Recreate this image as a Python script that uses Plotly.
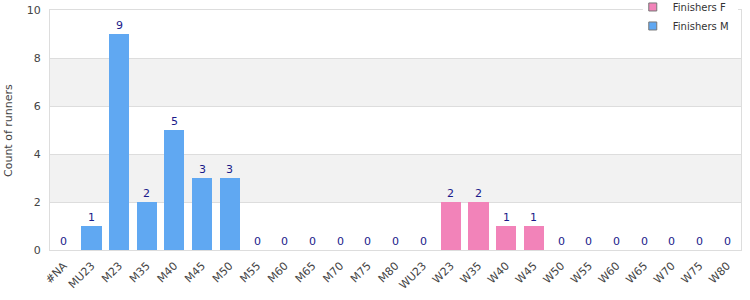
import plotly.graph_objects as go

categories = ["#NA", "MU23", "M23", "M35", "M40", "M45", "M50", "M55", "M60", "M65",
              "M70", "M75", "M80", "WU23", "W23", "W35", "W40", "W45", "W50", "W55",
              "W60", "W65", "W70", "W75", "W80"]
finishers_m = [0, 1, 9, 2, 5, 3, 3, 0, 0, 0, 0, 0, 0, 0, 0, 0, 0, 0, 0, 0, 0, 0, 0, 0, 0]
finishers_f = [0, 0, 0, 0, 0, 0, 0, 0, 0, 0, 0, 0, 0, 0, 2, 2, 1, 1, 0, 0, 0, 0, 0, 0, 0]
totals = [m + f for m, f in zip(finishers_m, finishers_f)]

BLUE = "#60a8f2"
PINK = "#f283b9"
FONT = "DejaVu Sans"

fig = go.Figure()
fig.add_trace(go.Bar(x=categories, y=finishers_f, name="Finishers F", showlegend=False,
                     marker=dict(color=PINK, line=dict(width=0))))
fig.add_trace(go.Bar(x=categories, y=finishers_m, name="Finishers M", showlegend=False,
                     marker=dict(color=BLUE, line=dict(width=0))))
# legend entries
for name, col in (("Finishers F", PINK), ("Finishers M", BLUE)):
    fig.add_trace(go.Scatter(x=[None], y=[None], mode="markers", name=name,
                             marker=dict(symbol="square", size=8, color=col,
                                         line=dict(color="#777777", width=1))))

annotations = []
for c, t in zip(categories, totals):
    annotations.append(dict(x=c, y=t, xref="x", yref="y", text=str(t), showarrow=False,
                            yanchor="bottom", yshift=0,
                            font=dict(family=FONT, size=11, color="#1a1a8a")))
annotations.append(dict(x=-0.0608, y=0.5, xref="paper", yref="paper", text="Count of runners",
                        textangle=-90, showarrow=False, xanchor="center", yanchor="middle",
                        font=dict(family=FONT, size=11, color="#444444")))

shapes = []
for y0 in (2, 6):
    shapes.append(dict(type="rect", xref="paper", yref="y", x0=0, x1=1, y0=y0, y1=y0 + 2,
                       fillcolor="#f2f2f2", line=dict(width=0), layer="below"))
# white gap in the top border behind the legend
shapes.append(dict(type="rect", xref="paper", yref="paper", x0=0.858, x1=0.9957,
                   y0=0.9917, y1=1.0083, fillcolor="white", line=dict(width=0), layer="above"))

fig.update_layout(
    width=750, height=300,
    margin=dict(l=50, r=9, t=10, b=50, autoexpand=False),
    barmode="stack", bargap=0.27,
    plot_bgcolor="white", paper_bgcolor="white",
    font=dict(family=FONT, size=11, color="#444444"),
    shapes=shapes, annotations=annotations,
    showlegend=True,
    legend=dict(x=0.8437 * 750 / 691 - 50 / 691, y=1.073,
                xanchor="left", yanchor="top", bgcolor="rgba(0,0,0,0)",
                font=dict(family=FONT, size=10, color="#333333"),
                traceorder="normal", itemwidth=30, tracegroupgap=0),
    xaxis=dict(tickangle=-45, showline=True, linecolor="#dddddd", mirror=True,
               range=[-0.5, len(categories) - 0.5], automargin=False,
               ticks="", ticklabelstandoff=4, tickfont=dict(size=11, color="#444444")),
    yaxis=dict(range=[0, 10], dtick=2, showgrid=True, gridcolor="#dddddd",
               showline=True, linecolor="#dddddd", mirror=True, zeroline=False,
               automargin=False, ticks="", ticklabelstandoff=6,
               tickfont=dict(size=11, color="#444444")),
)

fig.write_html("out.html")
